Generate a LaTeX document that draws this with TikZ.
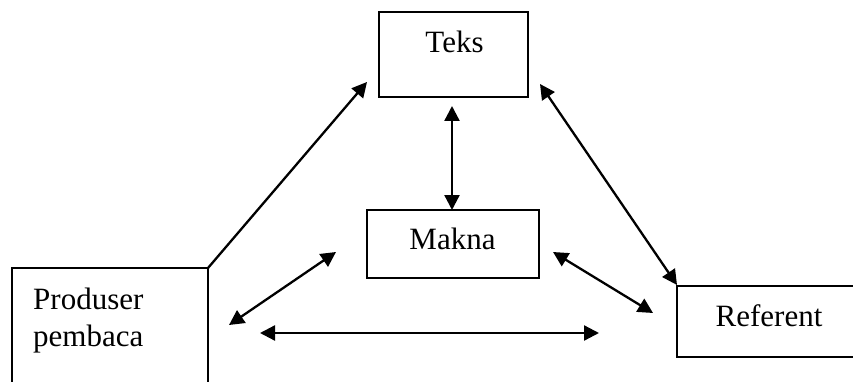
\documentclass[tikz,border=0pt]{standalone}
\usepackage{fontspec}
\setmainfont{Liberation Serif}
\usetikzlibrary{arrows.meta}
\begin{document}
\begin{tikzpicture}[x=1pt,y=-1pt,
  box/.style={draw,line width=2pt,inner sep=0pt,outer sep=0pt},
  lbl/.style={inner sep=0pt,font=\fontsize{31}{37}\selectfont,anchor=base},
  lblw/.style={inner sep=0pt,font=\fontsize{31}{37}\selectfont,anchor=base west},
  link/.style={line width=2.3pt},
  onehead/.style={-{Triangle[length=15pt,width=15pt]}},
  twohead/.style={{Triangle[length=15pt,width=15pt]}-{Triangle[length=15pt,width=15pt]}}]
\useasboundingbox (0,0) rectangle (853,382);
\clip (0,0) rectangle (853,382);
% boxes
\node[box,minimum width=149pt,minimum height=85pt] (teks) at (453.5,54.5) {};
\node[box,minimum width=172pt,minimum height=68pt] (makna) at (453,244) {};
\node[box,minimum width=196pt,minimum height=152pt] (prod) at (110,344) {};
\node[box,minimum width=203pt,minimum height=71pt] (ref) at (778.5,321.5) {};
% texts
\node[lbl] (teksT) at (454.5,53) {Teks};
\node[lbl] (maknaT) at (452.5,249) {Makna};
\node[lbl] (refT) at (769,326) {Referent};
\node[lblw] (prodT1) at (33,309) {Produser};
\node[lblw] (prodT2) at (33,346) {pembaca};
% arrow end points
\coordinate (pt) at (367,82);
\coordinate (tm1) at (452,106);
\coordinate (tm2) at (452,210);
\coordinate (tr1) at (540,84);
\coordinate (tr2) at (677,285);
\coordinate (pm1) at (229,325);
\coordinate (pm2) at (336,252);
\coordinate (mr1) at (553,252);
\coordinate (mr2) at (653,313);
\coordinate (pr1) at (260,333);
\coordinate (pr2) at (599,333);
% connectors
\draw[link,onehead] (prod.north east) -- (pt);
\draw[link,twohead] (tm1) -- (tm2);
\draw[link,twohead] (tr1) -- (tr2);
\draw[link,twohead] (pm1) -- (pm2);
\draw[link,twohead] (mr1) -- (mr2);
\draw[link,twohead] (pr1) -- (pr2);
\end{tikzpicture}
\end{document}
